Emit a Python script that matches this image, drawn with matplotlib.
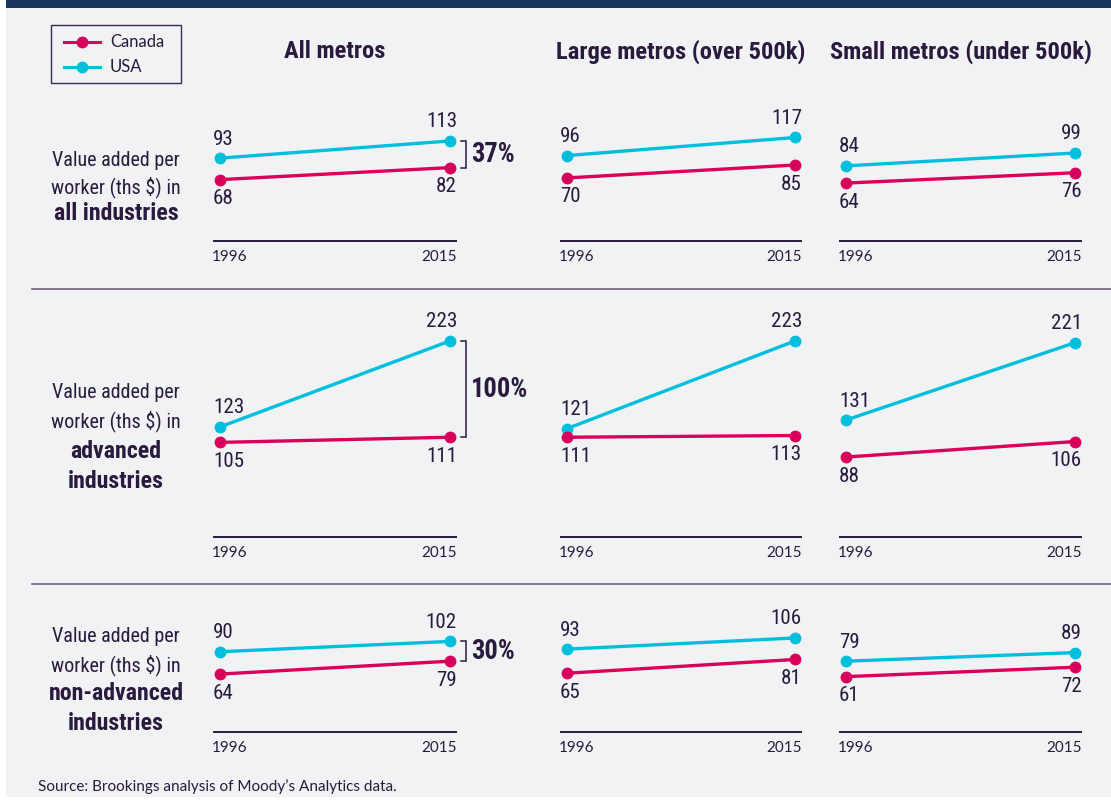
import matplotlib
matplotlib.use("Agg")
import matplotlib.pyplot as plt
from matplotlib import font_manager as fm
from matplotlib.patches import Rectangle
from matplotlib.lines import Line2D

# ---------------- data ----------------
years = ["1996", "2015"]
columns = ["All metros", "Large metros (over 500k)", "Small metros (under 500k)"]
row_labels_regular = ["Value added per\nworker (ths $) in"] * 3
row_labels_bold = ["all industries", "advanced\nindustries", "non-advanced\nindustries"]

# values[row][col] = (1996, 2015)
canada = [
    [(68, 82), (70, 85), (64, 76)],
    [(105, 111), (111, 113), (88, 106)],
    [(64, 79), (65, 81), (61, 72)],
]
usa = [
    [(93, 113), (96, 117), (84, 99)],
    [(123, 223), (121, 223), (131, 221)],
    [(90, 102), (93, 106), (79, 89)],
]
gap_labels = ["37%", "100%", "30%"]
series_names = ["Canada", "USA"]
source = "Source: Brookings analysis of Moody\u2019s Analytics data."

# ---------------- fonts ----------------
def pick_narrow():
    entries = [(f.name, f.stretch) for f in fm.fontManager.ttflist]
    prefs = ["Liberation Sans Narrow", "Roboto Condensed", "Open Sans Condensed",
             "Noto Sans Condensed", "DejaVu Sans Condensed"]
    for p in prefs:
        for nm, st in entries:
            if nm == p:
                return nm, "normal"
    for nm, st in entries:
        if "Mono" in nm or "Serif" in nm or "CJK" in nm:
            continue
        if st in ("condensed", "semi-condensed", "extra-condensed", "ultra-condensed"):
            return nm, st
    for nm, st in entries:
        if "Mono" in nm or "Serif" in nm or "CJK" in nm:
            continue
        if "Narrow" in nm or "Condensed" in nm or "Cond" in nm:
            return nm, "normal"
    return "Roboto", "normal"


NARROW_NAME, NARROW_STRETCH = pick_narrow()
NARROW = [NARROW_NAME, "DejaVu Sans"]
REG = ["Lato", "DejaVu Sans"]

# ---------------- style ----------------
W, H = 1111, 801
BG = "#f1f2f4"
NAVY = "#1b365d"
TXT = "#2a1a3d"
SEP = "#6f6180"
C_CAN = "#d9005b"
C_USA = "#00bfdd"

PX_PER_UNIT = 0.86
col_x = [(214, 456), (561, 801), (840, 1081)]          # axis line span in px
row_bottom = [240.7, 537.0, 731.7]                      # axis line y in px
row_top = [105, 318, 605]
row_ymin = [-3, -5, -3]
sep_y = [288.5, 584.0]
row_label_y = [(160, 187, 214), (393, 421, 451, 481), (637, 665, 694, 724)]

fig = plt.figure(figsize=(W / 100, H / 100), dpi=100)
fig.patch.set_facecolor("white")
renderer = fig.canvas.get_renderer()


def fx(x):
    return x / W


def fy(y):
    return 1 - y / H


def fit_size(text, target_px, weight="normal", family=NARROW, stretch=NARROW_STRETCH):
    t = fig.text(0, 0, text, fontsize=20, fontweight=weight, family=family,
                 fontstretch=stretch)
    w = t.get_window_extent(renderer).width
    t.remove()
    return 20 * target_px / w


# background and top bar
fig.add_artist(Rectangle((fx(6), fy(797)), fx(W) - fx(6), fy(7.7) - fy(797),
                         transform=fig.transFigure, facecolor=BG, edgecolor="none", zorder=0))
fig.add_artist(Rectangle((fx(6), fy(7.7)), 1 - fx(6), 1 - fy(7.7),
                         transform=fig.transFigure, facecolor=NAVY, edgecolor="none", zorder=0))

# separators
for y in sep_y:
    fig.add_artist(Line2D([fx(32), 1], [fy(y), fy(y)], transform=fig.transFigure,
                          color=SEP, lw=1.2, zorder=1))

val_size = min(17, fit_size("113", 31))
pct_size = min(20, fit_size("100%", 57, "bold"))
title_size = min(18, fit_size("Large metros (over 500k)", 248, "bold"))
rowreg_size = min(16.5, fit_size("Value added per", 128))
rowbold_size = min(17.5, fit_size("non-advanced", 135, "bold"))

for r in range(3):
    for c in range(3):
        x0, x1 = col_x[c]
        yb, yt = row_bottom[r], row_top[r]
        ax = fig.add_axes([fx(x0), fy(yb), fx(x1) - fx(x0), fy(yt) - fy(yb)])
        ax.set_facecolor("none")
        span = x1 - x0
        m = 6.0 / (span - 12)
        ax.set_xlim(-m, 1 + m)
        ymin = row_ymin[r]
        ax.set_ylim(ymin, ymin + (yb - yt) / PX_PER_UNIT)
        for s in ["top", "right", "left"]:
            ax.spines[s].set_visible(False)
        ax.spines["bottom"].set_color(TXT)
        ax.spines["bottom"].set_linewidth(1.4)
        ax.set_yticks([])
        ax.set_xticks([])
        xs = [0, 1]
        cv, uv = canada[r][c], usa[r][c]
        ax.plot(xs, uv, color=C_USA, lw=2.4, marker="o", ms=7.5, clip_on=False, zorder=3)
        ax.plot(xs, cv, color=C_CAN, lw=2.4, marker="o", ms=7.5, clip_on=False, zorder=4)
        # value labels
        for i, (xv, ha, dx) in enumerate([(0, "left", -7), (1, "right", 7)]):
            ax.annotate(str(uv[i]), (xv, uv[i]), xytext=(dx * 0.72, 19 * 0.72),
                        textcoords="offset points", ha=ha, va="center",
                        fontsize=val_size, family=NARROW, fontstretch=NARROW_STRETCH,
                        color=TXT, annotation_clip=False)
            ax.annotate(str(cv[i]), (xv, cv[i]), xytext=(dx * 0.72, -19 * 0.72),
                        textcoords="offset points", ha=ha, va="center",
                        fontsize=val_size, family=NARROW, fontstretch=NARROW_STRETCH,
                        color=TXT, annotation_clip=False)
        # year labels
        fig.text(fx(x0 - 2), fy(yb + 16), years[0], ha="left", va="center",
                 fontsize=11, family=REG, color=TXT)
        fig.text(fx(x1 + 1), fy(yb + 16), years[1], ha="right", va="center",
                 fontsize=11, family=REG, color=TXT)
        # bracket for first column
        if c == 0:
            hi, lo = uv[1], cv[1]
            bx = 1 + 16.0 / (span - 12)
            tx = 1 + 11.0 / (span - 12)
            ax.plot([tx, bx, bx, tx], [hi, hi, lo, lo], color=TXT, lw=1.1,
                    clip_on=False, solid_joinstyle="miter")
            ax.annotate(gap_labels[r], (bx, (hi + lo) / 2), xytext=(5 * 0.72, 0),
                        textcoords="offset points", ha="left", va="center",
                        fontsize=pct_size, fontweight="bold", family=NARROW,
                        fontstretch=NARROW_STRETCH, color=TXT, annotation_clip=False)

# column titles
for c, title in enumerate(columns):
    x0, x1 = col_x[c]
    fig.text(fx((x0 + x1) / 2), fy(52), title, ha="center", va="center",
             fontsize=title_size, fontweight="bold", family=NARROW,
             fontstretch=NARROW_STRETCH, color=TXT)

# row labels
for r in range(3):
    ys = row_label_y[r]
    reg_lines = row_labels_regular[r].split("\n")
    bold_lines = row_labels_bold[r].split("\n")
    for i, line in enumerate(reg_lines):
        fig.text(fx(116), fy(ys[i]), line, ha="center", va="center",
                 fontsize=rowreg_size, family=NARROW, fontstretch=NARROW_STRETCH, color=TXT)
    for j, line in enumerate(bold_lines):
        fig.text(fx(116), fy(ys[len(reg_lines) + j]), line, ha="center", va="center",
                 fontsize=rowbold_size, fontweight="bold", family=NARROW,
                 fontstretch=NARROW_STRETCH, color=TXT)

# legend
fig.add_artist(Rectangle((fx(51), fy(83.3)), fx(181) - fx(51), fy(25.3) - fy(83.3),
                         transform=fig.transFigure, facecolor="none", edgecolor="#3d2a4f",
                         lw=1.0, zorder=5))
for name, col, y in [(series_names[0], C_CAN, 42), (series_names[1], C_USA, 67)]:
    fig.add_artist(Line2D([fx(64), fx(100)], [fy(y), fy(y)], transform=fig.transFigure,
                          color=col, lw=2.2, zorder=6))
    fig.add_artist(Line2D([fx(82)], [fy(y)], transform=fig.transFigure, color=col,
                          marker="o", ms=7.5, lw=0, zorder=7))
    fig.text(fx(110), fy(y), name, ha="left", va="center", fontsize=12,
             family=REG, color=TXT)

# source
fig.text(fx(38), fy(787), source, ha="left", va="center", fontsize=11,
         family=REG, color=TXT)

fig.savefig("out.png", dpi=100, facecolor=fig.get_facecolor())
